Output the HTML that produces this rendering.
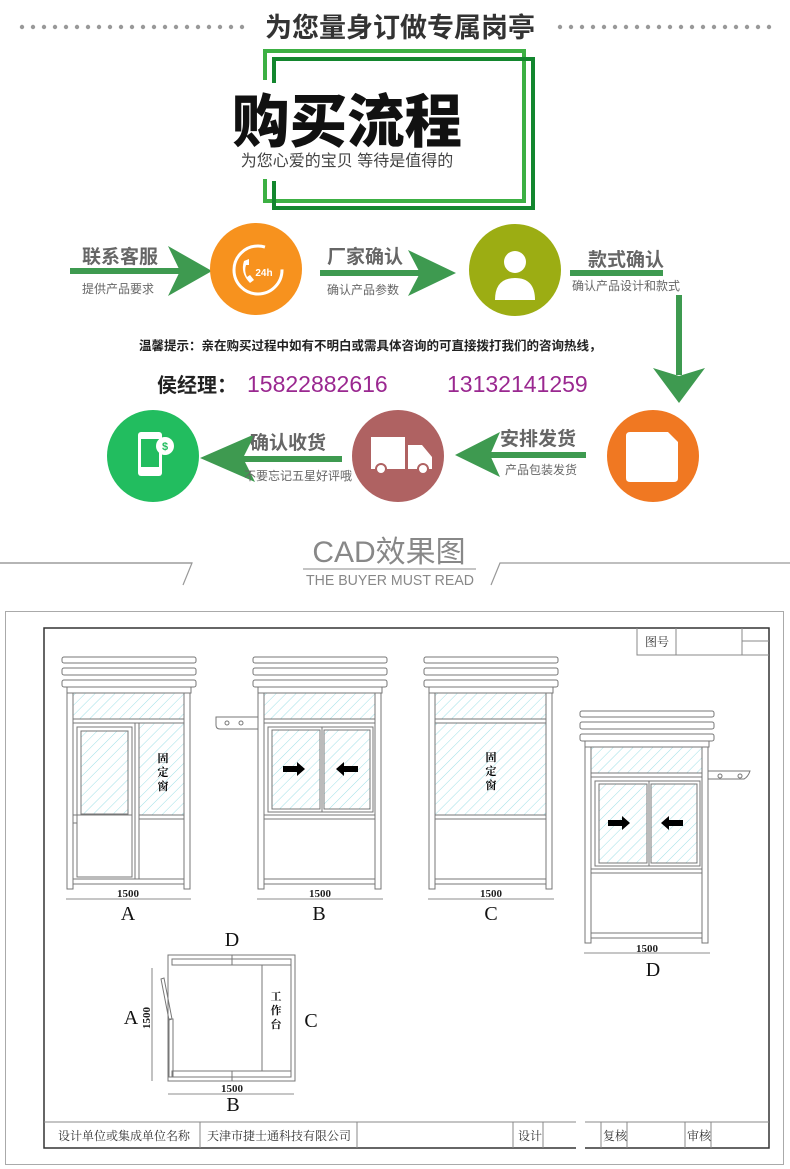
<!DOCTYPE html>
<html><head><meta charset="utf-8"><style>
body{margin:0;background:#fff;width:790px;height:1169px;overflow:hidden}
svg{display:block}
text{font-family:"Liberation Sans","Noto Sans CJK SC",sans-serif}
.s{font-family:"Liberation Serif","Noto Serif CJK SC",serif}
</style></head><body>
<svg width="790" height="1169" viewBox="0 0 790 1169" xmlns="http://www.w3.org/2000/svg">
<defs>
<pattern id="h" width="7" height="7" patternUnits="userSpaceOnUse" patternTransform="rotate(45)">
<line x1="0" y1="0" x2="0" y2="7" stroke="#9fe0e6" stroke-width="1"/>
</pattern>
<marker id="dummy"/>
<g id="frame" fill="#fff" stroke="#777" stroke-width="1">
<rect x="0" y="0" width="134" height="6" rx="2"/>
<rect x="0" y="11" width="134" height="7" rx="2"/>
<rect x="0" y="23" width="134" height="7" rx="2"/>
<rect x="5" y="30" width="124" height="6"/>
<rect x="5" y="36" width="6" height="196"/>
<rect x="122" y="36" width="6" height="196"/>
<rect x="11" y="36" width="111" height="26" fill="url(#h)"/>
<rect x="11" y="62" width="111" height="4"/>
<rect x="11" y="222" width="111" height="5"/>
</g>
<g id="arrR"><path d="M0 -3 H14 V-7 L22 0 L14 7 V3 H0Z" fill="#000"/></g>
</defs>

<!-- header -->
<g fill="#999">
<circle cx="22" cy="27" r="2.2"/><circle cx="33" cy="27" r="2.2"/><circle cx="44" cy="27" r="2.2"/><circle cx="55" cy="27" r="2.2"/><circle cx="66" cy="27" r="2.2"/><circle cx="77" cy="27" r="2.2"/><circle cx="88" cy="27" r="2.2"/><circle cx="99" cy="27" r="2.2"/><circle cx="110" cy="27" r="2.2"/><circle cx="121" cy="27" r="2.2"/><circle cx="132" cy="27" r="2.2"/><circle cx="143" cy="27" r="2.2"/><circle cx="154" cy="27" r="2.2"/><circle cx="165" cy="27" r="2.2"/><circle cx="176" cy="27" r="2.2"/><circle cx="187" cy="27" r="2.2"/><circle cx="198" cy="27" r="2.2"/><circle cx="209" cy="27" r="2.2"/><circle cx="220" cy="27" r="2.2"/><circle cx="231" cy="27" r="2.2"/><circle cx="242" cy="27" r="2.2"/>
<circle cx="560" cy="27" r="2.2"/><circle cx="571" cy="27" r="2.2"/><circle cx="582" cy="27" r="2.2"/><circle cx="593" cy="27" r="2.2"/><circle cx="604" cy="27" r="2.2"/><circle cx="615" cy="27" r="2.2"/><circle cx="626" cy="27" r="2.2"/><circle cx="637" cy="27" r="2.2"/><circle cx="648" cy="27" r="2.2"/><circle cx="659" cy="27" r="2.2"/><circle cx="670" cy="27" r="2.2"/><circle cx="681" cy="27" r="2.2"/><circle cx="692" cy="27" r="2.2"/><circle cx="703" cy="27" r="2.2"/><circle cx="714" cy="27" r="2.2"/><circle cx="725" cy="27" r="2.2"/><circle cx="736" cy="27" r="2.2"/><circle cx="747" cy="27" r="2.2"/><circle cx="758" cy="27" r="2.2"/><circle cx="769" cy="27" r="2.2"/>
</g>
<text x="400" y="37" font-size="27" font-weight="bold" fill="#333" text-anchor="middle">为您量身订做专属岗亭</text>

<g fill="none" stroke-width="4">
<path d="M265 80 V51 H524 V201 H265 V179" stroke="#3cb043"/>
<path d="M274 83 V59 H533 V208 H274 V181" stroke="#13862e"/>
</g>
<text x="347" y="142" font-size="58" font-weight="900" fill="#111" text-anchor="middle" textLength="230" lengthAdjust="spacingAndGlyphs">购买流程</text>
<text x="347" y="166" font-size="16" fill="#444" text-anchor="middle">为您心爱的宝贝 等待是值得的</text>

<!-- flow -->
<g fill="#3e9a50">
<rect x="70" y="268" width="110" height="6"/><path d="M168 246 L212 271 L168 296 L180 271Z"/>
<rect x="320" y="270" width="100" height="6"/><path d="M408 250 L456 273 L408 296 L420 273Z"/>
<rect x="570" y="270" width="93" height="6"/>
<rect x="676" y="295" width="6" height="80"/><path d="M653 368 L679 403 L705 368 L679 376Z"/>
<rect x="481" y="452" width="105" height="6"/><path d="M500 432 L455 455 L500 477 L490 455Z"/>
<rect x="240" y="456" width="102" height="6"/><path d="M255 434 L200 458 L255 482 L243 458Z"/>
</g>
<g font-size="19" font-weight="bold" fill="#666">
<text x="82" y="263">联系客服</text>
<text x="327" y="263">厂家确认</text>
<text x="588" y="266">款式确认</text>
<text x="500" y="445">安排发货</text>
<text x="250" y="449">确认收货</text>
</g>
<g font-size="12" fill="#666">
<text x="82" y="293">提供产品要求</text>
<text x="327" y="294">确认产品参数</text>
<text x="572" y="290">确认产品设计和款式</text>
<text x="505" y="474">产品包装发货</text>
<text x="244" y="480">不要忘记五星好评哦</text>
</g>

<circle cx="256" cy="269" r="46" fill="#f7921e"/>
<circle cx="258" cy="270" r="24" fill="none" stroke="#fff" stroke-width="3" stroke-dasharray="120 30"/>
<text x="264" y="276" font-size="10" font-weight="bold" fill="#fff" text-anchor="middle">24h</text>
<path d="M244 261 q-4 12 6 22 l4 -3 l-4 -5 l-3 2 q-3 -6 -1 -12 l3 0 l0 -6z" fill="#fff"/>
<circle cx="515" cy="270" r="46" fill="#9cad13"/>
<circle cx="515" cy="262" r="11" fill="#fff"/>
<path d="M495 300 q0 -22 20 -22 q20 0 20 22z" fill="#fff"/>
<circle cx="653" cy="456" r="46" fill="#f07822"/>
<path d="M630 432 h38 l10 10 v36 q0 4 -4 4 h-44 q-4 0 -4 -4 v-42 q0 -4 4 -4z" fill="#fff"/>
<circle cx="398" cy="456" r="46" fill="#af6262"/>
<rect x="371" y="437" width="34" height="32" fill="#fff"/>
<path d="M408 445 h14 l10 12 v12 h-24z" fill="#fff"/>
<circle cx="381" cy="469" r="5" fill="#fff" stroke="#af6262" stroke-width="2"/>
<circle cx="423" cy="469" r="5" fill="#fff" stroke="#af6262" stroke-width="2"/>
<circle cx="153" cy="456" r="46" fill="#22bd5f"/>
<rect x="138" y="432" width="24" height="44" rx="3" fill="#fff"/>
<rect x="141" y="439" width="18" height="28" fill="#22bd5f"/>
<circle cx="165" cy="446" r="9" fill="#fff"/>
<text x="165" y="450" font-size="11" font-weight="bold" fill="#22bd5f" text-anchor="middle">$</text>

<text x="139" y="350" font-size="12.5" font-weight="bold" fill="#222">温馨提示：亲在购买过程中如有不明白或需具体咨询的可直接拨打我们的咨询热线，</text>
<text x="157" y="392" font-size="20" font-weight="bold" fill="#222">侯经理：</text>
<text x="247" y="392" font-size="23" fill="#9a2890">15822882616</text>
<text x="447" y="392" font-size="23" fill="#9a2890">13132141259</text>

<!-- CAD header -->
<text x="389" y="562" font-size="30" fill="#888" text-anchor="middle">CAD效果图</text>
<line x1="303" y1="569" x2="476" y2="569" stroke="#888" stroke-width="1"/>
<text x="390" y="585" font-size="15" fill="#888" text-anchor="middle" textLength="168" lengthAdjust="spacingAndGlyphs">THE BUYER MUST READ</text>
<path d="M0 563 H192 L183 585" fill="none" stroke="#999" stroke-width="1.2"/>
<path d="M790 563 H330 L321 585" fill="none" stroke="#999" stroke-width="0" />
<path d="M790 563 H500 L491 585" fill="none" stroke="#999" stroke-width="1.2"/>
<path d="M0 563 H192" stroke="#999" stroke-width="1.2"/>

<!-- drawing -->
<rect x="5.5" y="611.5" width="778" height="553" fill="none" stroke="#aaa"/>
<rect x="44" y="628" width="725" height="520" fill="none" stroke="#333" stroke-width="1.5"/>
<g stroke="#888" fill="none">
<path d="M637 628 V655 H769 M676 628 V655 M742 628 V655 M742 641 H769"/>
</g>
<text x="645" y="646" class="s" font-size="12" fill="#333">图号</text>

<!-- A -->
<g transform="translate(62,657)">
<use href="#frame"/>
<g fill="#fff" stroke="#777">
<rect x="15" y="70" width="55" height="150"/>
<rect x="19" y="74" width="47" height="83" fill="url(#h)"/>
<line x1="15" y1="158" x2="70" y2="158"/>
<rect x="73" y="66" width="4" height="156"/>
<rect x="77" y="66" width="45" height="92" fill="url(#h)"/>
<rect x="77" y="158" width="45" height="4"/>
<rect x="11" y="158" width="4" height="8"/>
</g>
<text class="s" x="101" y="105" font-size="11" font-weight="bold" text-anchor="middle">固</text>
<text class="s" x="101" y="119" font-size="11" font-weight="bold" text-anchor="middle">定</text>
<text class="s" x="101" y="133" font-size="11" font-weight="bold" text-anchor="middle">窗</text>
</g>
<!-- B -->
<g transform="translate(253,657)">
<use href="#frame"/>
<g fill="#fff" stroke="#777">
<rect x="15" y="70" width="105" height="85"/>
<rect x="19" y="73" width="48" height="79" fill="url(#h)"/>
<rect x="71" y="73" width="46" height="79" fill="url(#h)"/>
<line x1="69" y1="70" x2="69" y2="155"/>
<rect x="11" y="158" width="111" height="4"/>
<path d="M-37 60 H5 V72 H-33 q-4 0 -4 -4z"/>
<circle cx="-26" cy="66" r="2"/><circle cx="-12" cy="66" r="2"/>
</g>
<use href="#arrR" transform="translate(30,112)"/>
<use href="#arrR" transform="translate(105,112) scale(-1,1)"/>
</g>
<!-- C -->
<g transform="translate(424,657)">
<use href="#frame"/>
<g fill="#fff" stroke="#777">
<rect x="11" y="66" width="111" height="92" fill="url(#h)"/>
<rect x="11" y="158" width="111" height="4"/>
</g>
<text class="s" x="67" y="104" font-size="11" font-weight="bold" text-anchor="middle">固</text>
<text class="s" x="67" y="118" font-size="11" font-weight="bold" text-anchor="middle">定</text>
<text class="s" x="67" y="132" font-size="11" font-weight="bold" text-anchor="middle">窗</text>
</g>
<!-- D -->
<g transform="translate(580,711)">
<use href="#frame"/>
<g fill="#fff" stroke="#777">
<rect x="15" y="70" width="105" height="85"/>
<rect x="19" y="73" width="48" height="79" fill="url(#h)"/>
<rect x="71" y="73" width="46" height="79" fill="url(#h)"/>
<line x1="69" y1="70" x2="69" y2="155"/>
<rect x="11" y="158" width="111" height="4"/>
<path d="M128 60 H170 q-2 6 -6 8 H128z"/>
<circle cx="140" cy="65" r="2"/><circle cx="160" cy="65" r="2"/>
</g>
<use href="#arrR" transform="translate(28,112)"/>
<use href="#arrR" transform="translate(103,112) scale(-1,1)"/>
</g>

<!-- dimensions -->
<g stroke="#666" stroke-width="0.8">
<line x1="66" y1="899" x2="191" y2="899"/><line x1="257" y1="899" x2="383" y2="899"/>
<line x1="428" y1="899" x2="554" y2="899"/><line x1="584" y1="953" x2="710" y2="953"/>
<line x1="168" y1="1094" x2="294" y2="1094"/><line x1="152" y1="968" x2="152" y2="1081"/>
</g>
<g class="s" font-size="11" font-weight="bold" fill="#222" text-anchor="middle">
<text class="s" x="128" y="897">1500</text><text class="s" x="320" y="897">1500</text>
<text class="s" x="491" y="897">1500</text><text class="s" x="647" y="952">1500</text>
<text class="s" x="232" y="1092">1500</text>
<text class="s" transform="translate(150,1018) rotate(-90)">1500</text>
</g>
<g class="s" font-size="20" fill="#111" text-anchor="middle">
<text class="s" x="128" y="920">A</text><text class="s" x="319" y="920">B</text>
<text class="s" x="491" y="920">C</text><text class="s" x="653" y="976">D</text>
<text class="s" x="232" y="946">D</text><text class="s" x="131" y="1024">A</text>
<text class="s" x="311" y="1027">C</text><text class="s" x="233" y="1111">B</text>
</g>
<!-- plan -->
<g fill="none" stroke="#777">
<rect x="168" y="955" width="127" height="126"/>
<rect x="172" y="959" width="119" height="6"/>
<rect x="172" y="1071" width="119" height="6"/>
<line x1="291" y1="959" x2="291" y2="1077"/>
<line x1="262" y1="965" x2="262" y2="1071"/>
<line x1="232" y1="955" x2="232" y2="965"/><line x1="232" y1="1071" x2="232" y2="1081"/>
<path d="M161 979 L164 978 L172 1019 L169 1020Z"/>
<rect x="169" y="1019" width="4" height="58"/>
</g>
<g class="s" font-size="11" font-weight="bold" fill="#111" text-anchor="middle">
<text class="s" x="276" y="1000">工</text><text class="s" x="276" y="1014">作</text><text class="s" x="276" y="1028">台</text>
</g>

<!-- title block -->
<g stroke="#888" fill="none">
<path d="M44 1122 H576 M585 1122 H769"/>
<path d="M200 1122 V1148 M357 1122 V1148 M513 1122 V1148 M543 1122 V1148 M601 1122 V1148 M627 1122 V1148 M685 1122 V1148 M711 1122 V1148"/>
</g>
<rect x="576" y="1121" width="9" height="29" fill="#fff"/>
<g class="s" font-size="12" fill="#333">
<text class="s" x="58" y="1140">设计单位或集成单位名称</text>
<text class="s" x="207" y="1140">天津市捷士通科技有限公司</text>
<text class="s" x="518" y="1140">设计</text>
<text class="s" x="603" y="1140">复核</text>
<text class="s" x="687" y="1140">审核</text>
</g>
</svg>
</body></html>
